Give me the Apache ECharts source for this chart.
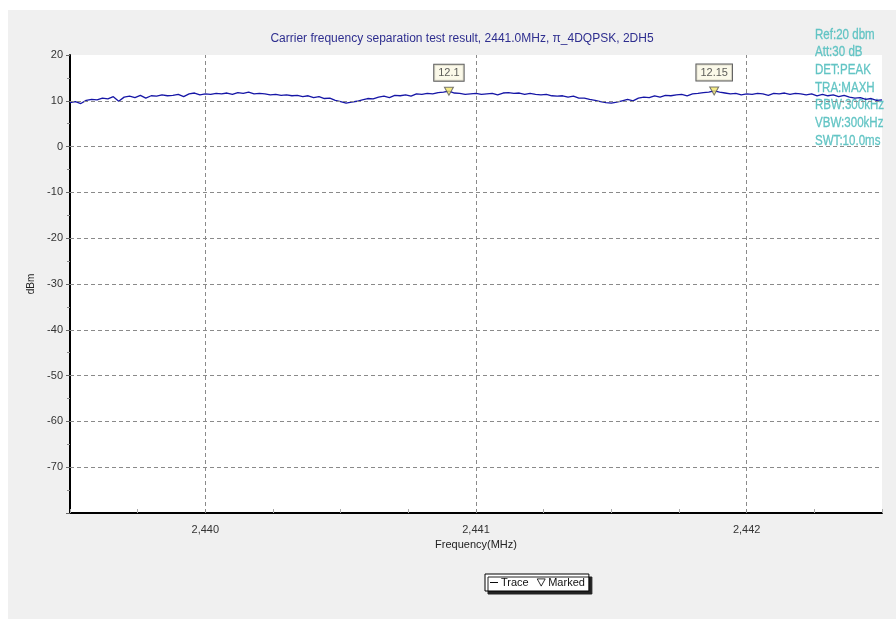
<!DOCTYPE html>
<html>
<head>
<meta charset="utf-8">
<script src="https://cdn.jsdelivr.net/npm/echarts@6/dist/echarts.min.js"></script>
<style>
html,body{margin:0;padding:0;background:#fff;}
#chart{width:896px;height:619px;}
</style>
</head>
<body>
<div id="chart"></div>
<script>
// ---- data ----
var titleText = 'Carrier frequency separation test result, 2441.0MHz, \u03c0_4DQPSK, 2DH5';
var infoLines = ['Ref:20 dbm', 'Att:30 dB', 'DET:PEAK', 'TRA:MAXH', 'RBW:300kHz', 'VBW:300kHz', 'SWT:10.0ms'];
var freqStart = 2439.5;   // MHz, first sweep point
var freqStep = 0.02;      // MHz between sweep points
var traceLevels = [
  9.6, 9.8, 9.4, 10.1, 10.3, 10.2,
  10.6, 10.4, 10.9, 9.9, 10.8, 11.0, 10.7, 11.2, 10.6, 11.1,
  11.0, 11.3, 11.1, 11.2, 11.4, 10.9, 11.5, 11.7, 11.3, 11.5,
  11.4, 11.6, 11.5, 11.7, 11.4, 11.8, 11.6, 11.9, 11.5, 11.6,
  11.5, 11.3, 11.4, 11.2, 11.3, 11.1, 11.2, 10.9, 11.1, 10.7,
  10.9, 10.5, 10.6, 10.1, 9.8, 9.5, 9.7, 9.9, 10.2, 10.5,
  10.4, 10.8, 11.0, 10.7, 11.2, 11.1, 11.3, 11.0, 11.5, 11.4,
  11.6, 11.5, 11.8, 11.9, 12.1, 11.7, 11.6, 11.4, 11.5, 11.6,
  11.4, 11.5, 11.6, 11.3, 11.7, 11.8, 11.6, 11.7, 11.4, 11.6,
  11.4, 11.3, 11.4, 11.1, 11.0, 11.1, 10.8, 11.0, 10.6, 10.6,
  10.3, 10.1, 9.8, 9.6, 9.5, 9.7, 10.0, 10.3, 10.0, 10.6,
  10.8, 10.7, 11.1, 10.8, 11.2, 11.1, 11.3, 11.4, 11.1, 11.5,
  11.6, 11.8, 11.9, 12.15, 11.9, 11.7, 11.5, 11.6, 11.3, 11.5,
  11.4, 11.6, 11.5, 11.2, 11.6, 11.5, 11.7, 11.4, 11.6, 11.5,
  11.3, 11.5, 11.1, 11.4, 11.1, 11.3, 10.9, 11.2, 10.8, 10.6,
  10.7, 10.3, 10.5, 10.1, 10.2
];
var markerFreqs = [2440.90, 2441.88];
var markerLevels = [12.1, 12.15];
var gridFreqs = [2440, 2441, 2442];
var gridLevels = [10, 0, -10, -20, -30, -40, -50, -60, -70];
var xMin = 2439.5, xMax = 2442.5, xTick = 0.25;
var yMin = -80, yMax = 20, yTick = 10;

// ---- build ----
var traceData = traceLevels.map(function (v, i) {
  return [+(freqStart + i * freqStep).toFixed(4), v];
});
var markerData = markerFreqs.map(function (f, i) { return [f, markerLevels[i]]; });
var gridMarks = gridFreqs.map(function (f) { return { xAxis: f }; })
  .concat(gridLevels.map(function (l) { return { yAxis: l }; }));

var chart = echarts.init(document.getElementById('chart'), null, { renderer: 'canvas' });
var fontFam = 'Liberation Sans, Arial, sans-serif';

var infoGraphics = infoLines.map(function (t, i) {
  return {
    type: 'text', x: 815, y: 27 + i * 17.7, scaleX: 0.77, z: 0,
    style: { text: t, fill: '#62C4C4', font: '500 15px "Liberation Sans", Arial, sans-serif', stroke: '#62C4C4', lineWidth: 0.3 }
  };
});

chart.setOption({
  animation: false,
  backgroundColor: '#ffffff',
  textStyle: { fontFamily: fontFam },
  graphic: [
    { type: 'rect', left: 8, top: 10, shape: { width: 888, height: 609 }, style: { fill: '#F0F0F0' }, z: -10, silent: true }
  ].concat(infoGraphics),
  title: {
    text: titleText,
    left: 457, top: 28, textAlign: 'center',
    textStyle: { color: '#2E2E8F', fontSize: 12, fontWeight: 'normal', fontFamily: fontFam }
  },
  grid: {
    left: 70, right: 14, top: 55, bottom: 106,
    show: true, backgroundColor: '#ffffff', borderWidth: 0
  },
  legend: {
    left: 485, top: 574,
    orient: 'horizontal',
    itemWidth: 8, itemHeight: 8, itemGap: 8,
    padding: [3, 4, 3, 5],
    backgroundColor: '#ffffff',
    borderColor: '#000', borderWidth: 1,
    shadowColor: '#222', shadowBlur: 0, shadowOffsetX: 3, shadowOffsetY: 3,
    textStyle: { fontSize: 11, color: '#111', padding: [0, 0, 0, -2] },
    data: [
      { name: 'Trace', icon: 'path://M0,4.5h10v1.2h-10z', itemStyle: { color: '#000' } },
      { name: 'Marked', icon: 'path://M0,0L10,0L5,9Z', itemStyle: { color: '#fff', borderColor: '#000', borderWidth: 1 } }
    ]
  },
  xAxis: {
    type: 'value',
    min: xMin, max: xMax, interval: xTick,
    name: 'Frequency(MHz)', nameLocation: 'middle', nameGap: 26,
    nameTextStyle: { fontSize: 11, color: '#222' },
    axisLine: { show: true, onZero: false, lineStyle: { color: '#000', width: 2 } },
    axisTick: { show: true, inside: true, length: 4, lineStyle: { color: '#aaa' } },
    axisLabel: {
      fontSize: 11, color: '#333', margin: 11,
      formatter: function (v) {
        if (Math.abs(v - Math.round(v)) > 1e-6) return '';
        var s = String(Math.round(v));
        return s.slice(0, s.length - 3) + ',' + s.slice(s.length - 3);
      }
    },
    splitLine: { show: false }
  },
  yAxis: {
    type: 'value',
    min: yMin, max: yMax, interval: yTick,
    name: 'dBm', nameLocation: 'middle', nameGap: 20, nameRotate: 90,
    nameTextStyle: { fontSize: 10, color: '#222' },
    axisLine: { show: true, onZero: false, lineStyle: { color: '#000', width: 2 } },
    axisTick: { show: true, length: 4, lineStyle: { color: '#666' } },
    minorTick: { show: true, splitNumber: 2, length: 3, lineStyle: { color: '#888' } },
    axisLabel: {
      fontSize: 11, color: '#333', margin: 7,
      formatter: function (v) { return v === yMin ? '' : String(v); }
    },
    splitLine: { show: false }
  },
  series: [
    {
      name: 'Trace', type: 'line',
      data: traceData,
      showSymbol: false, symbol: 'none',
      lineStyle: { color: '#1616A6', width: 1.3 },
      itemStyle: { color: '#1616A6' },
      z: 3,
      markLine: {
        silent: true, symbol: 'none', animation: false,
        label: { show: false },
        lineStyle: { type: [4, 3], color: '#8a8a8a', width: 1 },
        emphasis: { disabled: true },
        data: gridMarks
      }
    },
    {
      name: 'Marked', type: 'scatter',
      data: markerData,
      symbol: 'triangle', symbolRotate: 180, symbolSize: [9, 8],
      itemStyle: { color: '#F2E66A', borderColor: '#555', borderWidth: 1 },
      z: 5,
      label: {
        show: true, position: 'top', distance: 6,
        formatter: function (p) { return String(p.value[1]); },
        fontSize: 11, color: '#333',
        backgroundColor: '#FAF8E4', borderColor: '#333', borderWidth: 1,
        padding: [3, 4, 2, 4]
      }
    }
  ]
});
</script>
</body>
</html>
